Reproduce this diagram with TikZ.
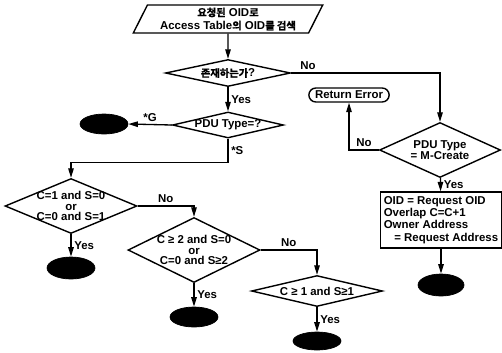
\documentclass[tikz,border=0pt]{standalone}
\usepackage{fontspec}
\setmainfont{Liberation Sans}
\newfontfamily\kr{Noto Sans CJK KR}[Scale=0.9,UprightFont={* Bold},BoldFont={* Bold},FakeBold=1.5]
\usetikzlibrary{arrows.meta,positioning,shapes.geometric,shapes.misc}
\definecolor{fcink}{HTML}{000000}
\tikzset{
  decision/.style={diamond,draw=fcink,line width=.8pt,shape aspect=2.4,inner xsep=-6pt,inner ysep=-2pt,align=center,text=fcink},
  io/.style={trapezium,trapezium left angle=65,trapezium right angle=115,trapezium stretches=true,draw=fcink,line width=.8pt,align=center,inner sep=1pt,font=\fontsize{6.5}{7.5}\selectfont\bfseries},
  process/.style={rectangle,draw=fcink,line width=.8pt,align=left,inner xsep=2pt,inner ysep=2pt,font=\fontsize{6.5}{7}\selectfont\bfseries},
  terminal/.style={rounded rectangle,draw=fcink,line width=.8pt,minimum width=1.84cm,minimum height=.28cm,inner ysep=1pt},
  stop/.style={ellipse,draw=fcink,fill=fcink,minimum width=.96cm,minimum height=.4cm},
  flow/.style={-{Triangle[length=1.9mm,width=1.1mm]},draw=fcink,line width=.75pt},
  lbl/.style={font=\fontsize{6.5}{7}\selectfont\bfseries,text=fcink,inner sep=1.5pt},
}

\begin{document}
\begin{tikzpicture}[x=.02cm,y=-.02cm,font=\fontsize{6.5}{6}\selectfont\bfseries]
  \path[use as bounding box] (0,0) rectangle (502,352);
  % main column
  \node[io,minimum width=3.8cm,minimum height=.56cm] (start) at (228,19) {{\kr 요청된} OID{\kr 로}\\Access Table{\kr 의} OID{\kr 를 검색}};
  \node[decision,minimum width=2.5cm,minimum height=.54cm] (exist) at (228,73) {{\kr 존재하는가}?};
  \node[decision,minimum width=2.22cm,minimum height=.52cm] (pdutype) at (228,125) {PDU Type=?};
  \node[stop] (endG) at (104,124) {};
  % overlap checks
  \node[decision,minimum width=2.64cm,minimum height=1.1cm] (cond1) at (71,206) {C=1 and S=0\\or\\C=0 and S=1};
  \node[stop,minimum height=.44cm] (end1) at (71,268) {};
  \node[decision,minimum width=2.64cm,minimum height=1.3cm] (cond2) at (194,250) {C ≥ 2 and S=0\\or\\C=0 and S≥2};
  \node[stop] (end2) at (194,317) {};
  \node[decision,minimum width=2.62cm,minimum height=.62cm] (cond3) at (317,291) {C ≥ 1 and S≥1};
  \node[stop,minimum height=.36cm] (end3) at (317,341) {};
  % create branch
  \node[terminal] (err) at (349,95) {Return Error};
  \node[decision,minimum width=2.42cm,minimum height=1.1cm] (create) at (440,150) {PDU Type\\= M-Create};
  \node[process,minimum width=2.36cm,minimum height=1.12cm] (assign) at (441,220) {OID = Request OID\\Overlap C=C+1\\Owner Address\\\hspace*{6pt}= Request Address};
  \node[stop,minimum width=.92cm,minimum height=.44cm] (end4) at (441,285) {};

  \draw[flow] (start) -- (exist);
  \draw[flow] (exist) -- node[lbl,right]{Yes} (pdutype);
  \draw[flow] (exist.east) -| node[lbl,pos=.02,anchor=south west]{No} (create.north);
  \draw[flow] (pdutype.west) -- node[lbl,above]{*G} (endG.east);
  \draw[flow] (pdutype.south) -- node[lbl,right]{*S} ++(0,24) -| (cond1.north);
  \draw[flow] (cond1) -- node[lbl,right]{Yes} (end1);
  \draw[flow] (cond1.east) -| node[lbl,pos=.25,above]{No} (cond2.north);
  \draw[flow] (cond2) -- node[lbl,right]{Yes} (end2);
  \draw[flow] (cond2.east) -| node[lbl,pos=.25,above]{No} (cond3.north);
  \draw[flow] (cond3) -- node[lbl,right]{Yes} (end3);
  \draw[flow] (create.west) -| node[lbl,pos=.25,above]{No} (err.south);
  \draw[flow] (create) -- node[lbl,right]{Yes} (assign);
  \draw[flow] (assign) -- (end4);
\end{tikzpicture}
\end{document}
